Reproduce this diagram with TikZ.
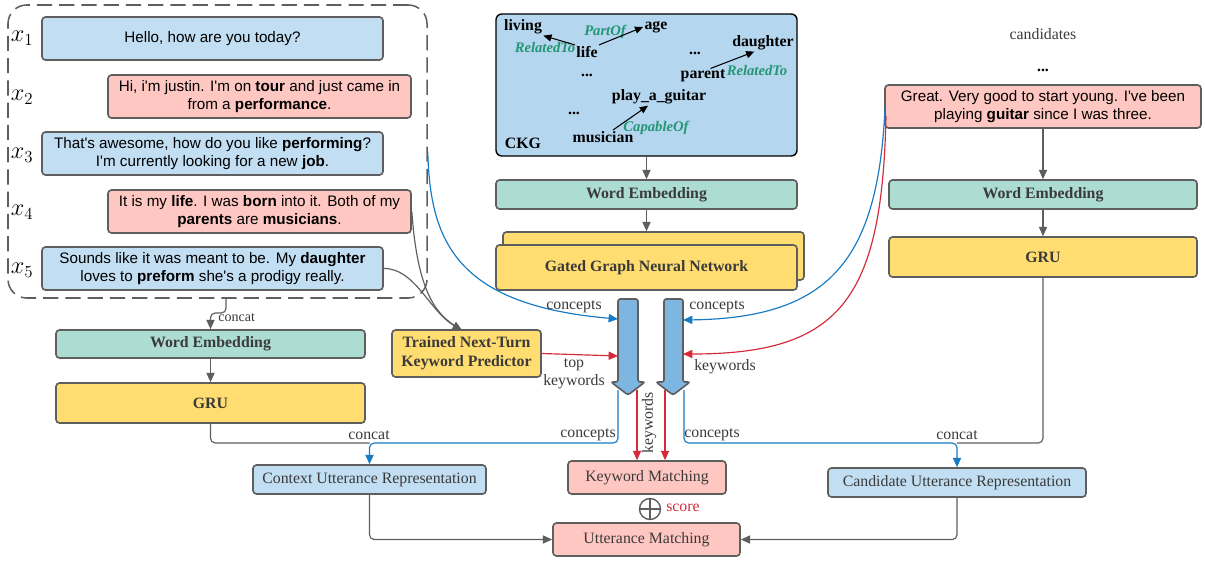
\documentclass[tikz,border=0pt]{standalone}
\usepackage{fontspec}
\setmainfont{Liberation Serif}
\setsansfont{Liberation Sans}[Ligatures=TeXOff]
\usetikzlibrary{arrows.meta}

\definecolor{uttblue}{RGB}{194,222,242}
\definecolor{ckgblue}{RGB}{180,214,238}
\definecolor{uttpink}{RGB}{255,199,193}
\definecolor{embgreen}{RGB}{172,220,210}
\definecolor{gruyellow}{RGB}{255,221,112}
\definecolor{flowblue}{RGB}{126,182,226}
\definecolor{edgegray}{RGB}{94,94,94}
\definecolor{txtgray}{RGB}{58,58,58}
\definecolor{conblue}{RGB}{22,122,196}
\definecolor{kwred}{RGB}{212,42,58}
\definecolor{relgreen}{RGB}{36,150,116}

\begin{document}
\begin{tikzpicture}[x=0.03cm,y=-0.03cm,
    box/.style={draw=edgegray,line width=1.4pt,rounded corners=3pt,inner sep=2pt,align=center},
    utt/.style={box,font=\sffamily\fontsize{13}{15.5}\selectfont,minimum height=1.29cm},
    modbox/.style={box,font=\bfseries\fontsize{13.5}{16}\selectfont,text=txtgray},
    repbox/.style={box,font=\fontsize{13.5}{16}\selectfont,text=txtgray,minimum height=0.87cm},
    concept/.style={font=\bfseries\fontsize{13.5}{16}\selectfont,inner sep=1pt},
    rel/.style={font=\bfseries\itshape\fontsize{12.5}{14}\selectfont,text=relgreen,inner sep=1pt},
    lbl/.style={font=\fontsize{13.5}{15}\selectfont,text=txtgray,inner sep=1pt,align=center},
    turn/.style={font=\fontsize{20}{20}\selectfont},
    gline/.style={draw=edgegray,line width=1pt,rounded corners=4pt},
    garrow/.style={gline,-{Triangle[width=7pt,length=8pt]}},
    barrow/.style={draw=conblue,line width=1pt,rounded corners=4pt,-{Triangle[width=7pt,length=8pt]}},
    rarrow/.style={draw=kwred,line width=1pt,-{Triangle[width=7pt,length=8pt]}},
    karrow/.style={draw=black,line width=0.9pt,-{Triangle[width=6pt,length=7pt]}},
    flow/.style={draw=edgegray,line width=1.4pt,fill=flowblue,rounded corners=2pt}]
  \useasboundingbox (0,0) rectangle (1205,563);

  % dialogue context
  \node[draw=edgegray,line width=1.3pt,dash pattern=on 13pt off 6pt,rounded corners=16pt,
        minimum width=12.57cm,minimum height=8.79cm] (dialog) at (217.5,151.5) {};
  \node[utt,fill=uttblue,minimum width=10.23cm] (u1) at (212.5,38.5) {Hello, how are you today?};
  \node[utt,fill=uttpink,minimum width=9.09cm] (u2) at (259.5,96.5)
    {Hi, i'm justin. I'm on \textbf{tour} and just came in\\from a \textbf{performance}.};
  \node[utt,fill=uttblue,minimum width=10.23cm] (u3) at (212.5,153.5)
    {That's awesome, how do you like \textbf{performing}?\\I'm currently looking for a new \textbf{job}.};
  \node[utt,fill=uttpink,minimum width=9.09cm] (u4) at (259.5,211.5)
    {It is my \textbf{life}. I was \textbf{born} into it. Both of my\\\textbf{parents} are \textbf{musicians}.};
  \node[utt,fill=uttblue,minimum width=10.23cm] (u5) at (212.5,268.5)
    {Sounds like it was meant to be. My \textbf{daughter}\\loves to \textbf{preform} she's a prodigy really.};
  \foreach \i/\y in {1/38,2/97,3/155,4/212,5/270}
    \node[turn] (t\i) at (22,\y) {$x_{\i}$};

  % commonsense knowledge graph
  \node[draw=black,line width=1.2pt,fill=ckgblue,rounded corners=5pt,
        minimum width=9.03cm,minimum height=4.26cm] (ckg) at (646.5,85) {};
  \node[concept] (living) at (523,27) {living};
  \node[concept] (age) at (656,27) {age};
  \node[concept] (life) at (587,52) {life};
  \node[concept] (daughter) at (763,43) {daughter};
  \node[concept] (dotsA) at (695,53) {...};
  \node[concept] (dotsB) at (587,75) {...};
  \node[concept] (parent) at (703,76) {parent};
  \node[concept] (guitar) at (659,97) {play\_a\_guitar};
  \node[concept] (dotsC) at (574,113) {...};
  \node[concept] (musician) at (603,137) {musician};
  \node[concept] (ckgname) at (523,143) {CKG};
  \node[rel] (relA) at (545,47) {RelatedTo};
  \node[rel] (relB) at (605,32) {PartOf};
  \node[rel] (relC) at (757,70) {RelatedTo};
  \node[rel] (relD) at (656,128) {CapableOf};
  \draw[karrow] (life.north west) -- (living.south east);
  \draw[karrow] (life.north east) -- (age.west);
  \draw[karrow] (parent.45) -- (daughter.225);
  \draw[karrow] ([xshift=0.3cm]musician.north) -- ([xshift=-0.33cm]guitar.south);

  \node[modbox,fill=embgreen,minimum width=9.03cm,minimum height=0.87cm] (wemid) at (646.5,194.5) {Word Embedding};
  \node[box,fill=gruyellow,minimum width=9.03cm,minimum height=1.44cm] (ggnnback) at (653.5,256) {};
  \node[modbox,fill=gruyellow,minimum width=9.03cm,minimum height=1.35cm] (ggnn) at (646.5,267.5) {Gated Graph Neural Network};

  % candidates
  \node[lbl] (candtitle) at (1043,34) {candidates};
  \node[concept] (canddots) at (1043,70) {...};
  \node[utt,fill=uttpink,minimum width=9.48cm] (cand) at (1043,106.5)
    {Great. Very good to start young. I've been\\playing \textbf{guitar} since I was three.};
  \node[modbox,fill=embgreen,minimum width=9.24cm,minimum height=0.87cm] (weright) at (1043,194.5) {Word Embedding};
  \node[modbox,fill=gruyellow,minimum width=9.24cm,minimum height=1.2cm] (gruright) at (1043,257) {GRU};

  \node[modbox,fill=embgreen,minimum width=9.27cm,minimum height=0.84cm] (weleft) at (210.5,344) {Word Embedding};
  \node[modbox,fill=gruyellow,minimum width=9.27cm,minimum height=1.2cm] (gruleft) at (210.5,403) {GRU};
  \node[modbox,fill=gruyellow,minimum width=4.47cm,minimum height=1.41cm] (predictor) at (466.5,353.5)
    {Trained Next-Turn\\Keyword Predictor};

  \node[repbox,fill=uttblue,minimum width=6.99cm] (ctxrep) at (369.5,479.5) {Context Utterance Representation};
  \node[repbox,fill=uttblue,minimum width=7.74cm] (candrep) at (957,482.5) {Candidate Utterance Representation};
  \node[repbox,fill=uttpink,minimum width=4.74cm,minimum height=0.99cm] (kwmatch) at (647,477.5) {Keyword Matching};
  \node[repbox,fill=uttpink,minimum width=5.61cm,minimum height=0.99cm] (uttmatch) at (646.5,539.5) {Utterance Matching};
  \node[draw=edgegray,circle,line width=1.2pt,minimum size=0.63cm,inner sep=0pt] (oplus) at (650,509) {};
  \draw[edgegray,line width=1.2pt] (oplus.north) -- (oplus.south) (oplus.west) -- (oplus.east);
  \node[lbl,text=kwred] (score) at (683,508) {score};

  % concept / keyword flows
  \draw[flow] (618,382) -- (618,299) -- (638,299) -- (638,382) -- (645,382) -- (628,395) -- (611,382) -- cycle;
  \draw[flow] (664,382) -- (664,299) -- (683,299) -- (683,382) -- (690,382) -- (673,395) -- (656,382) -- cycle;
  \coordinate (inA) at (618,319);
  \coordinate (inB) at (618,356);
  \coordinate (inC) at (683,320);
  \coordinate (inD) at (683,354);
  \coordinate (outA) at (618,390);
  \coordinate (outB) at (637,390);
  \coordinate (outC) at (665,390);
  \coordinate (outD) at (684,390);
  \coordinate (ljoin) at (369.5,443);
  \coordinate (rjoin) at (957,443);
  \coordinate (dlgout) at (226,298);
  \coordinate (predin) at (462,330);
  \coordinate (candC) at (885,108);
  \coordinate (candK) at (886,116);

  \draw[garrow] (ckg) -- (wemid);
  \draw[garrow] (wemid.south) -- (wemid.south |- ggnnback.north);
  \draw[garrow] (cand) -- (weright);
  \draw[garrow] (weright) -- (gruright);
  \draw[gline] (gruright.south) |- (rjoin);
  \draw[garrow] (dlgout) -- ++(0,15) -| (weleft.north);
  \node[lbl,font=\fontsize{12}{14}\selectfont,anchor=west] (concatA) at (217,318) {concat};
  \draw[garrow] (weleft) -- (gruleft);
  \draw[gline] (gruleft.south) |- (ljoin);
  \draw[gline] (u4.east) .. controls (418,300) and (440,318) .. (predin);
  \draw[garrow] (u5.east) .. controls (415,268) and (430,312) .. (predin);

  \draw[barrow] (dialog.east) .. controls (430,240) and (455,305) .. (inA);
  \draw[rarrow] (predictor.east) -- (inB);
  \draw[barrow] (candC) .. controls (878,260) and (830,318) .. (inC);
  \draw[rarrow] (candK) .. controls (882,300) and (840,354) .. (inD);
  \draw[barrow] (outA) |- (ljoin) -- (ctxrep.north);
  \draw[barrow] (outD) |- (rjoin) -- (candrep.north);
  \draw[rarrow] (outB) -- (outB |- kwmatch.north);
  \draw[rarrow] (outC) -- (outC |- kwmatch.north);
  \draw[garrow] (ctxrep.south) |- (uttmatch.west);
  \draw[garrow] (candrep.south) |- (uttmatch.east);

  \node[lbl] (lconA) at (574,307) {concepts};
  \node[lbl] (ltop) at (574,374) {top\\keywords};
  \node[lbl] (lconB) at (717,307) {concepts};
  \node[lbl] (lkwB) at (725,367) {keywords};
  \node[lbl] (lconC) at (588,435) {concepts};
  \node[lbl] (lconD) at (712,435) {concepts};
  \node[lbl,rotate=90] (lkwC) at (649,423) {keywords};
  \node[lbl] (lcatB) at (369,435) {concat};
  \node[lbl] (lcatC) at (957,435) {concat};
\end{tikzpicture}
\end{document}
